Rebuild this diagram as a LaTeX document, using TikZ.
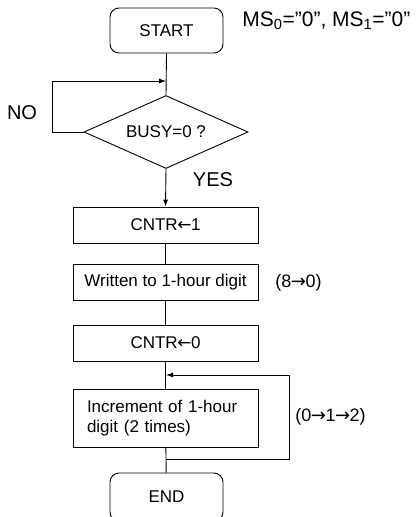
\documentclass[tikz,border=0pt]{standalone}
\usepackage{fontspec}
\setmainfont{Liberation Sans}
\newfontfamily\arrowfont{DejaVu Sans}
\newcommand{\lftarrow}{{\arrowfont\kern-0.5pt←\kern-0.5pt}}
\newcommand{\rgtarrow}{{\arrowfont\kern-0.5pt→\kern-0.5pt}}
\usetikzlibrary{shapes.geometric,arrows.meta}
\tikzset{
  x=1pt, y=-1pt,
  every path/.style={line width=0.9pt},
  terminal/.style={draw, rounded corners=9pt, minimum width=113pt, minimum height=45pt, inner sep=0pt, font=\fontsize{17}{20}\selectfont},
  procbox/.style={draw, minimum width=185pt, minimum height=36pt, inner sep=0pt, font=\fontsize{17}{20}\selectfont},
  decision/.style={draw, diamond, aspect=2.25, minimum width=164pt, minimum height=73pt, inner sep=0pt, font=\fontsize{17}{20}\selectfont},
  flow/.style={-{Latex[length=7pt,width=5pt]}},
  biglabel/.style={inner sep=0pt, font=\fontsize{20}{24}\selectfont},
  note/.style={inner sep=0pt, font=\fontsize{18}{21}\selectfont}
}
\begin{document}
\begin{tikzpicture}
\useasboundingbox (0,0) rectangle (420,517);

% flow nodes
\node[terminal] (start) at (166.5,30.5) {START};
\node[decision] (dec) at (166,132) {BUSY=0 ?};
\node[procbox] (c1) at (165.5,225) {CNTR\lftarrow 1};
\node[procbox] (wr) at (165.5,282) {Written to 1-hour digit};
\node[procbox] (c0) at (165.5,343) {CNTR\lftarrow 0};
\node[procbox, minimum height=58pt, text width=157pt, align=left, inner xsep=14pt] (inc) at (165.5,418) {Increment of 1-hour\\digit (2 times)};
\node[terminal, minimum height=48pt] (end) at (166.5,497) {END};

% side texts
\node[biglabel, anchor=west, font=\fontsize{21}{25}\selectfont] (ms) at (242,21) {MS\textsubscript{0}="0", MS\textsubscript{1}="0"};
\node[biglabel] (no) at (22,113) {NO};
\node[biglabel] (yes) at (213,180) {YES};
\node[note, anchor=west] (n80) at (275,283) {(8\rgtarrow 0)};
\node[note, anchor=west] (n012) at (295,417) {(0\rgtarrow 1\rgtarrow 2)};

% junction points
\coordinate (j1) at (166,81);
\coordinate (l1) at (52,132);
\coordinate (l2) at (52,81);
\coordinate (j2) at (166,375);
\coordinate (j3) at (166,459);
\coordinate (r1) at (289,459);
\coordinate (r2) at (289,375);

% connectors
\draw (start.south) -- (dec.north);
\draw[flow] (dec.west) -- (l1) -- (l2) -- (j1);
\draw[flow] (dec.south) -- (c1.north);
\draw (c1) -- (wr);
\draw (wr) -- (c0);
\draw (c0) -- (inc);
\draw (inc) -- (end);
\draw[flow] (j3) -- (r1) -- (r2) -- (j2);
\end{tikzpicture}
\end{document}
